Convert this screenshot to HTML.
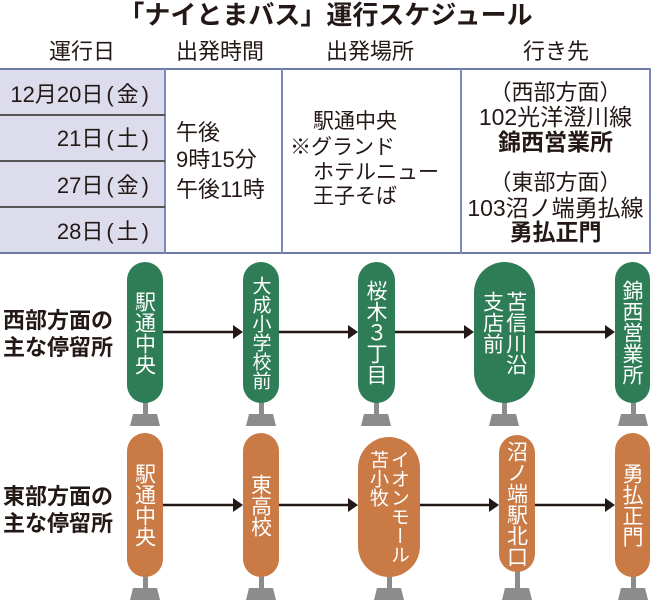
<!DOCTYPE html>
<html><head><meta charset="utf-8"><style>
*{margin:0;padding:0;box-sizing:border-box}
body{width:651px;height:600px;background:#fff;position:relative;overflow:hidden;font-family:"Liberation Sans","Noto Sans CJK JP",sans-serif;color:#231815}
.a{position:absolute;white-space:nowrap;line-height:1}
.t{font-size:22px}
.p{margin:0 3px}
.pill{position:absolute;border-radius:40px;display:flex;align-items:center;justify-content:center;color:#fff;font-size:21px;line-height:1.1;writing-mode:vertical-rl;font-family:"Noto Sans CJK JP",sans-serif}
.g{background:#2e7d56}.o{background:#c97a45}
.pole{position:absolute;width:5px;background:#8c8c8c}
.base{position:absolute;width:30px;height:12px;background:#8c8c8c;clip-path:polygon(10% 0,90% 0,100% 100%,0 100%)}
</style></head><body>
<div class="a" style="left:0;width:651px;top:2px;text-align:center;font-size:26px;font-weight:bold">「ナイとまバス」運行スケジュール</div>
<div class="a t" style="left:49px;top:41px">運行日</div>
<div class="a t" style="left:176px;top:41px">出発時間</div>
<div class="a t" style="left:326px;top:41px">出発場所</div>
<div class="a t" style="left:523px;top:41px">行き先</div>
<!-- table -->
<div style="position:absolute;left:0;top:68px;width:165px;height:185px;background:#dcdcec"></div>
<div style="position:absolute;left:0;top:68px;width:651px;height:2px;background:#6d7aa8"></div>
<div style="position:absolute;left:0;top:252px;width:651px;height:2px;background:#6d7aa8"></div>
<div style="position:absolute;left:164px;top:68px;width:2px;height:186px;background:#7d8ab8"></div>
<div style="position:absolute;left:281px;top:68px;width:2px;height:186px;background:#7d8ab8"></div>
<div style="position:absolute;left:460px;top:68px;width:2px;height:186px;background:#7d8ab8"></div>
<div style="position:absolute;left:649px;top:68px;width:2px;height:186px;background:#7d8ab8"></div>
<div style="position:absolute;left:0;top:114px;width:165px;height:2px;background:#555"></div>
<div style="position:absolute;left:0;top:160px;width:165px;height:2px;background:#555"></div>
<div style="position:absolute;left:0;top:206px;width:165px;height:2px;background:#555"></div>
<div class="a t" style="right:499px;top:84px">12月20日<span class="p">(</span>金<span class="p">)</span></div>
<div class="a t" style="right:499px;top:128px">21日<span class="p">(</span>土<span class="p">)</span></div>
<div class="a t" style="right:499px;top:175px">27日<span class="p">(</span>金<span class="p">)</span></div>
<div class="a t" style="right:499px;top:221px">28日<span class="p">(</span>土<span class="p">)</span></div>
<div class="a t" style="left:176px;top:122px">午後</div>
<div class="a t" style="left:176px;top:149px">9時15分</div>
<div class="a t" style="left:176px;top:179px">午後11時</div>
<div class="a t" style="left:313px;top:111px;font-size:21px">駅通中央</div>
<div class="a t" style="left:290px;top:137px;font-size:21px">※グランド</div>
<div class="a t" style="left:313px;top:162px;font-size:21px">ホテルニュー</div>
<div class="a t" style="left:313px;top:186px;font-size:21px">王子そば</div>
<div class="a t" style="left:462px;width:187px;text-align:center;top:82px">（西部方面）</div>
<div class="a t" style="left:462px;width:187px;text-align:center;top:106px;font-size:23px">102光洋澄川線</div>
<div class="a t" style="left:462px;width:187px;text-align:center;top:131px;font-weight:bold;font-size:23px">錦西営業所</div>
<div class="a t" style="left:462px;width:187px;text-align:center;top:172px">（東部方面）</div>
<div class="a t" style="left:462px;width:187px;text-align:center;top:197px;font-size:23px">103沼ノ端勇払線</div>
<div class="a t" style="left:462px;width:187px;text-align:center;top:221px;font-weight:bold;font-size:23px">勇払正門</div>
<!-- labels -->
<div class="a" style="left:3px;top:310px;font-size:22px;font-weight:bold">西部方面の</div>
<div class="a" style="left:3px;top:337px;font-size:22px;font-weight:bold">主な停留所</div>
<div class="a" style="left:3px;top:486px;font-size:22px;font-weight:bold">東部方面の</div>
<div class="a" style="left:3px;top:513px;font-size:22px;font-weight:bold">主な停留所</div>
<!-- arrows -->
<svg style="position:absolute;left:0;top:0" width="651" height="600">
<g stroke="#231815" stroke-width="2.5" fill="#231815">
<line x1="163" y1="332" x2="235" y2="332"/><polygon points="233,325 243,332 233,339" stroke="none"/>
<line x1="279" y1="332" x2="350" y2="332"/><polygon points="348,325 358,332 348,339" stroke="none"/>
<line x1="395" y1="332" x2="466" y2="332"/><polygon points="464,325 474,332 464,339" stroke="none"/>
<line x1="535" y1="332" x2="607" y2="332"/><polygon points="605,325 615,332 605,339" stroke="none"/>
<line x1="163" y1="505" x2="235" y2="505"/><polygon points="233,498 243,505 233,512" stroke="none"/>
<line x1="279" y1="505" x2="350" y2="505"/><polygon points="348,498 358,505 348,512" stroke="none"/>
<line x1="420" y1="505" x2="491" y2="505"/><polygon points="489,498 499,505 489,512" stroke="none"/>
<line x1="535" y1="505" x2="607" y2="505"/><polygon points="605,498 615,505 605,512" stroke="none"/>
</g></svg>
<!-- top poles -->
<div class="pole" style="left:143px;top:400px;height:16px"></div><div class="base" style="left:130px;top:414px"></div>
<div class="pole" style="left:259px;top:400px;height:16px"></div><div class="base" style="left:246px;top:414px"></div>
<div class="pole" style="left:374px;top:400px;height:16px"></div><div class="base" style="left:361px;top:414px"></div>
<div class="pole" style="left:502px;top:400px;height:16px"></div><div class="base" style="left:489px;top:414px"></div>
<div class="pole" style="left:631px;top:400px;height:16px"></div><div class="base" style="left:618px;top:414px"></div>
<div class="pill g" style="left:127px;top:262px;width:36px;height:141px">駅通中央</div>
<div class="pill g" style="left:243px;top:262px;width:36px;height:141px;font-size:19px">大成小学校前</div>
<div class="pill g" style="left:358px;top:262px;width:37px;height:141px">桜木３丁目</div>
<div class="pill g" style="left:474px;top:262px;width:61px;height:141px">苫信川沿<br>支店前</div>
<div class="pill g" style="left:615px;top:262px;width:35px;height:141px">錦西営業所</div>
<!-- bottom poles -->
<div class="pole" style="left:143px;top:574px;height:16px"></div><div class="base" style="left:130px;top:588px"></div>
<div class="pole" style="left:259px;top:574px;height:16px"></div><div class="base" style="left:246px;top:588px"></div>
<div class="pole" style="left:387px;top:574px;height:16px"></div><div class="base" style="left:374px;top:588px"></div>
<div class="pole" style="left:515px;top:570px;height:20px"></div><div class="base" style="left:502px;top:588px"></div>
<div class="pole" style="left:631px;top:574px;height:16px"></div><div class="base" style="left:618px;top:588px"></div>
<div class="pill o" style="left:127px;top:433px;width:36px;height:144px">駅通中央</div>
<div class="pill o" style="left:243px;top:433px;width:36px;height:144px">東高校</div>
<div class="pill o" style="left:358px;top:437px;width:62px;height:140px;font-size:19px">イオンモール<br>苫小牧</div>
<div class="pill o" style="left:499px;top:435px;width:36px;height:137px">沼ノ端駅北口</div>
<div class="pill o" style="left:615px;top:433px;width:35px;height:144px">勇払正門</div>
</body></html>
